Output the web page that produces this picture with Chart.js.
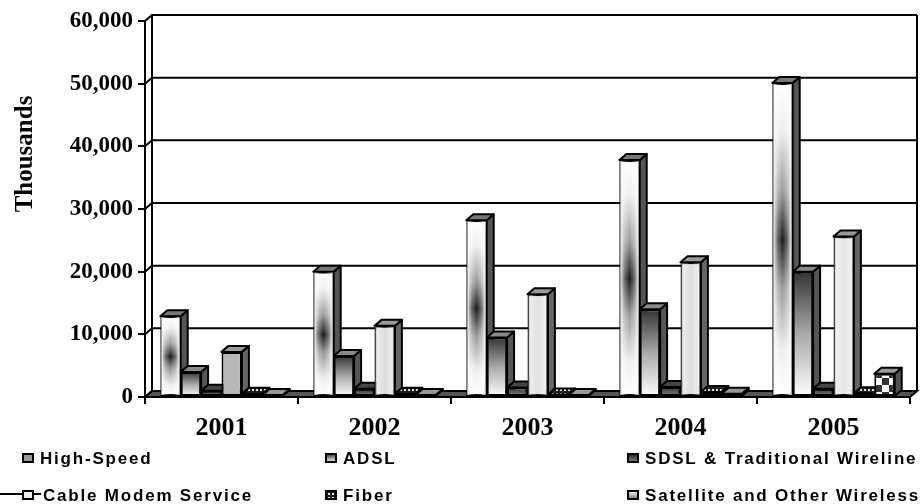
<!DOCTYPE html>
<html>
<head>
<meta charset="utf-8">
<style>
  html, body { margin: 0; padding: 0; background: #fff; }
  #wrap { width: 921px; height: 504px; }
</style>
<script src="https://cdn.jsdelivr.net/npm/chart.js@4"></script>
</head>
<body>
<div id="wrap"><canvas id="chart" width="921" height="504"></canvas></div>
<script>
const years = ['2001', '2002', '2003', '2004', '2005'];
const highSpeed = [12900, 20000, 28200, 37800, 50100];
const adsl = [4000, 6550, 9500, 14000, 20000];
const sdsl = [1000, 1300, 1500, 1600, 1300];
const cableModem = [7200, 11350, 16400, 21500, 25600];
const fiber = [500, 500, 400, 800, 600];
const satellite = [300, 300, 300, 500, 3700];

const cableShade = ['#b8b8b8', '#dcdcdc', '#e0e0e0', '#dcdcdc', '#e4e4e4'];
const depthX = 7;
const depthY = -6;
const yTitle = 'Thousands';

let ctx = document.getElementById('chart').getContext('2d');

function dotPattern() {
  let c = document.createElement('canvas');
  c.width = 4; c.height = 4;
  let p = c.getContext('2d');
  p.fillStyle = '#222';
  p.fillRect(0, 0, 4, 4);
  p.fillStyle = '#ddd';
  p.fillRect(0, 1, 2, 2);
  return ctx.createPattern(c, 'repeat');
}

function checkPattern() {
  let c = document.createElement('canvas');
  c.width = 14; c.height = 14;
  let p = c.getContext('2d');
  p.fillStyle = '#fff';
  p.fillRect(0, 0, 14, 14);
  p.fillStyle = '#333';
  p.fillRect(0, 0, 7, 7);
  p.fillRect(7, 7, 7, 7);
  return ctx.createPattern(c, 'repeat');
}

function verticalFill(stops) {
  return function(context) {
    let chart = context.chart;
    if (!chart.chartArea || context.parsed === undefined) return stops[0][1];
    let y = chart.scales.y;
    let g = chart.ctx.createLinearGradient(0, y.getPixelForValue(context.parsed.y), 0, y.getPixelForValue(0));
    stops.forEach(s => g.addColorStop(s[0], s[1]));
    return g;
  };
}

const fiberFill = dotPattern();

const datasets = [
  {
    label: 'High-Speed', data: highSpeed,
    backgroundColor: verticalFill([[0, '#fff'], [0.15, '#eee'], [0.35, '#999'], [0.5, '#1c1c1c'], [0.65, '#999'], [0.85, '#eee'], [1, '#fff']]),
    sideColor: '#555', topColor: '#777'
  },
  {
    label: 'ADSL', data: adsl,
    backgroundColor: verticalFill([[0, '#333'], [0.5, '#aaa'], [1, '#fff']]),
    sideColor: '#555', topColor: '#888'
  },
  {
    label: 'SDSL & Traditional Wireline', data: sdsl,
    backgroundColor: verticalFill([[0, '#333'], [1, '#888']]),
    sideColor: '#555', topColor: '#444'
  },
  {
    label: 'Cable Modem Service', data: cableModem,
    backgroundColor: context => cableShade[context.dataIndex],
    sideColor: '#666', topColor: '#999'
  },
  {
    label: 'Fiber', data: fiber,
    backgroundColor: fiberFill,
    sideColor: '#333', topColor: fiberFill
  },
  {
    label: 'Satellite and Other Wireless', data: satellite,
    backgroundColor: checkPattern(),
    sideColor: '#555', topColor: '#999'
  }
];

datasets.forEach(d => {
  d.borderColor = '#000';
  d.borderWidth = 2;
  d.borderSkipped = false;
  d.categoryPercentage = 0.8;
  d.barPercentage = 1;
});

function poly(c, pts, fill) {
  c.beginPath();
  pts.forEach((p, i) => i ? c.lineTo(p[0], p[1]) : c.moveTo(p[0], p[1]));
  c.closePath();
  c.fillStyle = fill;
  c.fill();
  c.stroke();
}

// back wall, floor, shifted gridlines, then the side and top of every bar
const wallPlugin = {
  id: 'wall',
  beforeDatasetsDraw(chart) {
    let c = chart.ctx, a = chart.chartArea, y = chart.scales.y;
    c.save();
    c.strokeStyle = '#000';
    c.lineWidth = 2;
    poly(c, [[a.left, a.bottom], [a.right, a.bottom], [a.right + depthX, a.bottom + depthY], [a.left + depthX, a.bottom + depthY]], '#555');
    y.ticks.forEach(t => {
      let py = y.getPixelForValue(t.value);
      c.beginPath();
      c.moveTo(a.left, py);
      c.lineTo(a.left + depthX, py + depthY);
      if (t.value > 0) c.lineTo(a.right + depthX, py + depthY);
      c.stroke();
    });
    c.beginPath();
    c.moveTo(a.left + depthX, a.top + depthY);
    c.lineTo(a.left + depthX, a.bottom + depthY);
    c.moveTo(a.right + depthX, a.top + depthY);
    c.lineTo(a.right + depthX, a.bottom + depthY);
    c.stroke();

    c.lineJoin = 'round';
    chart.data.datasets.forEach((d, i) => {
      chart.getDatasetMeta(i).data.forEach(bar => {
        let l = bar.x - bar.width / 2, r = bar.x + bar.width / 2;
        poly(c, [[r, bar.y], [r + depthX, bar.y + depthY], [r + depthX, bar.base + depthY], [r, bar.base]], d.sideColor);
        poly(c, [[l, bar.y], [l + depthX, bar.y + depthY], [r + depthX, bar.y + depthY], [r, bar.y]], d.topColor);
      });
    });
    c.restore();
  },
  // the fills fade to white at the left and right edge of the taller bars
  afterDatasetDraw(chart, args) {
    if (args.index !== 0 && args.index !== 3) return;
    let c = chart.ctx;
    let edge = args.index === 0 ? 'rgba(255,255,255,0.9)' : 'rgba(255,255,255,0.55)';
    c.save();
    args.meta.data.forEach((bar, i) => {
      if (args.index === 3 && i === 0) return;
      let l = bar.x - bar.width / 2 + 1, r = bar.x + bar.width / 2 - 1;
      let g = c.createLinearGradient(l, 0, r, 0);
      g.addColorStop(0, edge);
      g.addColorStop(0.25, 'rgba(255,255,255,0.3)');
      g.addColorStop(0.5, 'rgba(255,255,255,0)');
      g.addColorStop(0.75, 'rgba(255,255,255,0.3)');
      g.addColorStop(1, edge);
      c.fillStyle = g;
      c.fillRect(l, bar.y + 1, r - l, bar.base - bar.y - 2);
    });
    c.restore();
  }
};

const legendColumns = [40, 343, 645];
const legendRows = [464, 501];
const legendSwatches = [
  ['#999'],
  ['#333', '#fff'],
  ['#222', '#888'],
  ['#eee'],
  [],
  ['#fff', '#777']
];

// three fixed columns, which the built-in legend cannot do
const legendPlugin = {
  id: 'columnLegend',
  afterDraw(chart) {
    let c = chart.ctx;
    c.save();
    // the axis title sits above the middle of the axis
    c.save();
    c.translate(32, 154);
    c.rotate(-Math.PI / 2);
    c.font = 'bold 25px "Liberation Serif"';
    c.textAlign = 'center';
    c.textBaseline = 'alphabetic';
    c.fillStyle = '#000';
    c.fillText(yTitle, 0, 0);
    c.restore();

    c.strokeStyle = '#000';
    c.lineWidth = 2;
    c.beginPath();
    c.moveTo(0, legendRows[1] - 7);
    c.lineTo(legendColumns[0] + 1, legendRows[1] - 7);
    c.stroke();
    chart.data.datasets.forEach((d, i) => {
      let x = legendColumns[i % 3], base = legendRows[Math.floor(i / 3)];
      let stops = legendSwatches[i];
      let fill = fiberFill;
      if (stops.length) {
        fill = c.createLinearGradient(0, base - 10, 0, base - 2);
        fill.addColorStop(0, stops[0]);
        fill.addColorStop(1, stops[stops.length - 1]);
      }
      c.fillStyle = fill;
      c.fillRect(x - 17, base - 10, 10, 8);
      c.strokeRect(x - 17, base - 10, 10, 8);
      c.fillStyle = '#000';
      c.font = 'bold 17px "Liberation Sans"';
      c.letterSpacing = '1.8px';
      c.textAlign = 'left';
      c.textBaseline = 'alphabetic';
      // the line through the cable swatch pushes its text along a little
      c.fillText(d.label, i === 3 ? x + 3 : x, base);
      c.letterSpacing = '0px';
    });
    c.restore();
  }
};

new Chart(ctx, {
  type: 'bar',
  data: { labels: years, datasets: datasets },
  plugins: [wallPlugin, legendPlugin],
  options: {
    responsive: false,
    animation: false,
    layout: { padding: { top: 21, right: 11, left: 0, bottom: 0 } },
    plugins: {
      legend: { display: false },
      tooltip: { enabled: false }
    },
    scales: {
      x: {
        grid: { drawOnChartArea: false, color: '#000', lineWidth: 2, tickLength: 7 },
        border: { color: '#000', width: 2 },
        ticks: {
          color: '#000', maxRotation: 0, padding: 9,
          font: { family: '"Liberation Serif"', size: 26, weight: 'bold' }
        },
        afterFit(scale) { scale.height = 107; }
      },
      y: {
        min: 0,
        max: 60000,
        grid: { drawOnChartArea: false, color: '#000', lineWidth: 2, tickLength: 7 },
        border: { color: '#000', width: 2 },
        ticks: {
          color: '#000', stepSize: 10000, padding: 5,
          font: { family: '"Liberation Serif"', size: 23, weight: 'bold' },
          callback: v => v.toLocaleString('en-US')
        },
        afterFit(scale) { scale.width = 145; }
      }
    }
  }
});
</script>
</body>
</html>
